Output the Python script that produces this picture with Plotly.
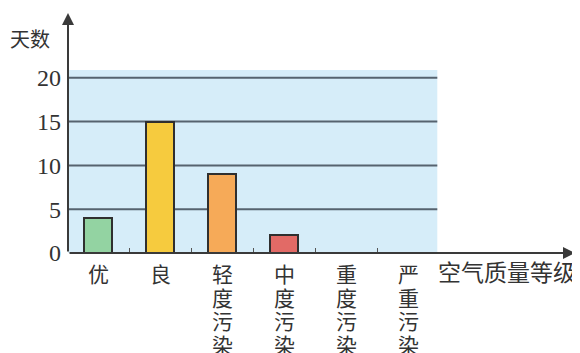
import plotly.graph_objects as go

# 空气质量等级 / 天数
categories = ["优", "良", "轻度污染", "中度污染", "重度污染", "严重污染"]
days = [4, 15, 9, 2, 0, 0]
bar_colors = ["#93d3a2", "#f6cb3e", "#f6aa58", "#e26a66", "#e26a66", "#e26a66"]
y_ticks = [0, 5, 10, 15, 20]

x_pos = list(range(len(categories)))
# 0 天的不画柱子
bar_y = [d if d > 0 else None for d in days]

x_min, x_max = -0.484, 7.69
y_min, y_max = 0, 27.4
bg_right = 5.47
bg_top = 20.9

# 页面 body 默认有 8px 边距, 画布缩小 8px 对齐窗口
W, H = 572, 345
OFF = 8


def px(p):
    return (p - OFF) / W


def py(q):
    return (H + OFF - q) / H


cjk = "Noto Sans CJK SC"
serif = "Liberation Serif"

fig = go.Figure()

fig.add_trace(go.Bar(
    x=x_pos,
    y=bar_y,
    width=0.45,
    marker=dict(color=bar_colors, line=dict(color="#2f2f2f", width=2)),
    showlegend=False,
))

# 浅蓝背景
fig.add_shape(type="rect", xref="x", yref="y",
              x0=x_min, x1=bg_right, y0=0, y1=bg_top,
              fillcolor="#d6edf9", line=dict(width=0), layer="below")

# 横向网格线
for v in y_ticks[1:]:
    fig.add_shape(type="line", xref="x", yref="y",
                  x0=x_min, x1=bg_right, y0=v, y1=v,
                  line=dict(color="#56636f", width=2), layer="below")

# 坐标轴箭头
fig.add_annotation(x=x_max, y=0, ax=x_min, ay=0, xref="x", yref="y",
                   axref="x", ayref="y", showarrow=True, arrowhead=2,
                   arrowsize=1.2, arrowwidth=2, arrowcolor="#3a3a3a", text="")
fig.add_annotation(x=x_min, y=y_max, ax=x_min, ay=0, xref="x", yref="y",
                   axref="x", ayref="y", showarrow=True, arrowhead=2,
                   arrowsize=1.2, arrowwidth=2, arrowcolor="#3a3a3a", text="")

# 类别名竖排, 每个字单独放, 行距比 <br> 紧一些
for i, name in zip(x_pos, categories):
    for k, ch in enumerate(name):
        fig.add_annotation(x=i, y=py(273 + 23.5 * k), xref="x", yref="paper",
                           text=ch, showarrow=False,
                           xanchor="center", yanchor="middle",
                           font=dict(family=cjk, size=21, color="#333"))

fig.add_annotation(x=px(507), y=py(271), xref="paper", yref="paper",
                   text="空气质量等级", showarrow=False,
                   xanchor="center", yanchor="middle",
                   font=dict(family=cjk, size=23, color="#333"))
fig.add_annotation(x=px(30), y=py(38), xref="paper", yref="paper",
                   text="天数", showarrow=False,
                   xanchor="center", yanchor="middle",
                   font=dict(family=cjk, size=20, color="#333"))

fig.update_xaxes(
    domain=[px(68), px(575)],
    range=[x_min, x_max],
    automargin=False,
    tickmode="array",
    tickvals=x_pos,
    showticklabels=False,
    ticks="",
    showgrid=False,
    zeroline=False,
    showline=False,
    minor=dict(tickmode="array", tickvals=[i + 0.5 for i in x_pos[:-1]],
               ticks="inside", ticklen=5, tickwidth=1, tickcolor="#555"),
)
fig.update_yaxes(
    domain=[py(253), py(13)],
    range=[y_min, y_max],
    automargin=False,
    tickmode="array",
    tickvals=y_ticks,
    ticks="",
    showgrid=False,
    zeroline=False,
    showline=False,
    ticklabelstandoff=6,
    tickfont=dict(family=serif, size=24, color="#333"),
)

fig.update_layout(
    width=W,
    height=H,
    margin=dict(l=0, r=0, t=0, b=0),
    paper_bgcolor="white",
    plot_bgcolor="rgba(0,0,0,0)",
    bargap=0,
)

fig.write_html("out.html")
